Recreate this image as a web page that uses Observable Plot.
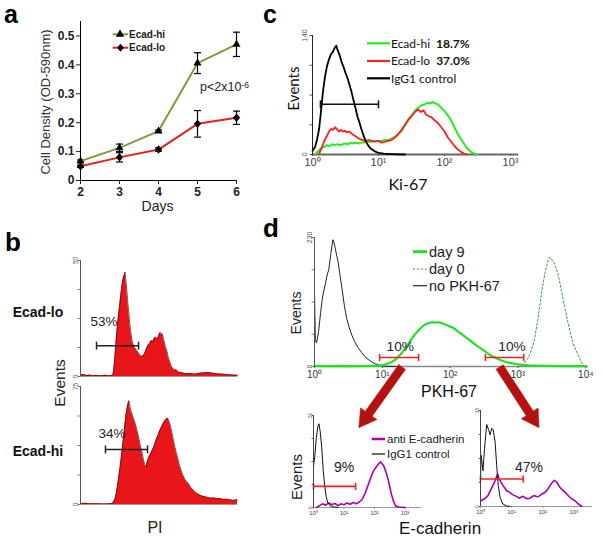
<!DOCTYPE html>
<html><head><meta charset="utf-8">
<script src="https://cdn.jsdelivr.net/npm/d3@7"></script>
<script src="https://cdn.jsdelivr.net/npm/@observablehq/plot@0.6"></script>
<style>
html,body{margin:0;padding:0;background:#fff;}
#fig{position:relative;width:602px;height:539px;overflow:hidden;background:#fff;}
</style></head><body><div id="fig"></div>
<script>
// ---------- Panel a: growth curves ----------
const days = [2, 3, 4, 5, 6];
const hiMean = [0.067, 0.113, 0.171, 0.406, 0.471];
const hiErr  = [0.004, 0.013, 0.004, 0.036, 0.042];
const loMean = [0.049, 0.080, 0.107, 0.196, 0.217];
const loErr  = [0.004, 0.016, 0.006, 0.046, 0.023];
const yTicksA = [0, 0.1, 0.2, 0.3, 0.4, 0.5];

// ---------- Panel b: PI histograms (channel 0-100, events) ----------
const piLo = [[0,0.6],[2,0.9],[4,0.4],[6,0.6],[8,0.3],[10,0.5],[12,0.3],[14,0.4],[16,0.5],[18,0.3],[20,0.4],[20.8,1],[21.5,5],[22.2,11],[23,18],[24,25],[25,31],[26,37],[26.8,41],[27.5,43],[28,44],[28.4,45],[28.8,42],[29.3,39],[30,33],[30.7,28],[31.5,22],[32.3,18],[33,15],[34,13],[35,12],[36,11],[37,10],[38,9],[39,8.5],[40,9],[41,10],[42,12],[43,13.5],[44,14],[45,15.5],[46,15],[47,16.5],[48,17],[49,16],[50,18],[50.8,19],[51.5,17.5],[52,18.5],[53,16],[54,13],[55,11],[56,8],[57,6],[58,4],[59,3.5],[60,2.5],[61,3],[62,2],[63,1.8],[65,1.5],[67,1.2],[70,1.3],[73,1],[76,1.4],[79,1.6],[82,1.7],[85,1.3],[88,1.1],[91,1],[94,0.8],[97,0.6],[100,0.5]];
const piHi = [[0,0.5],[3,0.8],[6,0.4],[9,0.5],[12,0.4],[15,0.3],[18,0.5],[20,0.6],[21,1.5],[22,3.5],[23,8],[24,15],[25,22],[26,30],[27,39],[28,48],[29,57],[30,63],[30.8,66],[31.5,62],[32.2,59],[33,57],[34,54],[35,51],[36,47],[37,43],[38,38],[39,34],[40,29],[41,25],[41.8,24],[42.5,27],[43.5,30],[44.5,32],[45.5,34],[46.5,36],[47.5,39],[48.5,42],[49.5,44],[50.5,47],[51.5,49],[52.5,51],[53.5,53],[54.5,54],[55.3,55],[56,54],[57,51],[58,47],[59,42],[60,37],[61,33],[62,29],[63,25],[64,22],[65,19],[66,17],[67,15],[68,14],[69,13],[70,11],[71,10],[72,9],[73,8],[74,7],[75,6.5],[77,5.5],[79,5],[81,4.5],[83,4],[85,4.2],[87,3.6],[89,3.8],[91,3.2],[93,3.4],[95,3],[97,2.6],[99,2.8],[100,3]];
const piLoGate = {x1: 10.2, x2: 37, y: 13.3};
const piHiGate = {x1: 15.9, x2: 42.7, y: 35};

// ---------- Panel c: Ki-67 histograms (log10 fluorescence, events) ----------
const kiIgG = [[0,4],[0.04,9],[0.07,18],[0.1,30],[0.13,52],[0.16,75],[0.19,92],[0.22,104],[0.25,112],[0.28,118],[0.31,121],[0.34,126],[0.36,128],[0.38,123],[0.41,117],[0.44,109],[0.47,103],[0.5,96],[0.53,90],[0.56,82],[0.59,74],[0.62,64],[0.65,55],[0.68,45],[0.71,38],[0.74,30],[0.77,23],[0.8,17],[0.84,11],[0.88,7],[0.92,5],[0.96,3],[1.0,2],[1.08,1],[1.2,0.5],[1.4,0]];
const kiHi = [[0.05,1],[0.1,5],[0.14,8],[0.18,9],[0.22,11],[0.26,10],[0.3,12],[0.34,11],[0.38,12],[0.42,11],[0.46,12],[0.5,13],[0.54,12],[0.58,14],[0.62,13],[0.66,14],[0.7,13],[0.74,14],[0.78,14],[0.82,15],[0.86,15],[0.9,15],[0.95,16],[1.0,16],[1.05,16],[1.1,17],[1.15,17],[1.2,19],[1.25,21],[1.3,24],[1.35,28],[1.4,34],[1.45,40],[1.5,46],[1.55,51],[1.6,55],[1.65,58],[1.7,59],[1.75,61],[1.78,60],[1.82,62],[1.86,60],[1.9,59],[1.95,55],[2.0,51],[2.05,46],[2.1,40],[2.15,32],[2.2,24],[2.25,18],[2.3,12],[2.35,7],[2.4,3],[2.45,1],[2.5,0]];
const kiLo = [[0.1,1],[0.13,6],[0.16,12],[0.19,18],[0.22,22],[0.25,27],[0.28,30],[0.31,29],[0.34,32],[0.37,30],[0.4,27],[0.43,29],[0.46,27],[0.49,28],[0.52,26],[0.56,27],[0.6,24],[0.64,22],[0.68,20],[0.72,18],[0.76,17],[0.8,16],[0.85,17],[0.9,16],[0.95,15],[1.0,16],[1.05,14],[1.1,15],[1.15,16],[1.2,17],[1.25,20],[1.3,24],[1.35,29],[1.4,35],[1.45,41],[1.5,45],[1.55,50],[1.6,53],[1.64,50],[1.68,52],[1.72,47],[1.76,45],[1.8,44],[1.85,40],[1.9,37],[1.95,32],[2.0,27],[2.05,20],[2.1,15],[2.15,10],[2.2,6],[2.25,3],[2.3,1],[2.35,0]];
const kiGate = {x1: 0.12, x2: 1.0, y: 59};

// ---------- Panel d: PKH-67 dilution ----------
const pkhNone = [[0,134],[0.012,48],[0.03,42],[0.06,62],[0.09,96],[0.12,125],[0.16,147],[0.19,165],[0.21,172],[0.24,200],[0.27,226],[0.29,220],[0.31,208],[0.35,185],[0.38,160],[0.41,135],[0.44,109],[0.47,88],[0.51,70],[0.55,56],[0.59,45],[0.64,34],[0.69,25.5],[0.74,18],[0.79,12.8],[0.84,8.5],[0.89,5],[0.94,3],[0.99,1.3],[1.05,0.5],[1.2,0]];
const pkhDay9 = [[0,1],[0.2,0.5],[0.4,1],[0.6,0.6],[0.8,1],[0.9,1.2],[0.98,2],[1.05,4],[1.13,7.7],[1.18,11],[1.23,16.6],[1.28,23],[1.33,31.5],[1.38,40],[1.43,49],[1.48,57],[1.53,64],[1.58,70],[1.63,75],[1.68,77],[1.73,79],[1.78,78],[1.83,79],[1.88,77],[1.93,75],[1.98,72],[2.03,70],[2.08,66],[2.13,61],[2.18,57],[2.23,52],[2.28,48],[2.33,43],[2.38,38],[2.43,34],[2.48,30],[2.53,25.5],[2.58,21],[2.63,18],[2.68,15],[2.73,12],[2.8,9],[2.88,6.5],[2.97,4.5],[3.07,3],[3.17,2],[3.27,1.5],[3.45,1],[3.7,0.8],[4.0,0.6]];
const pkhDay0 = [[3.0,0],[3.04,1],[3.09,5],[3.16,17],[3.2,30],[3.24,46],[3.29,82],[3.33,115],[3.36,141],[3.4,168],[3.44,188],[3.47,195],[3.5,190],[3.53,186],[3.56,176],[3.59,165],[3.62,148],[3.66,123],[3.7,100],[3.73,82],[3.77,62],[3.8,46],[3.84,33],[3.88,22.6],[3.92,12],[3.95,5],[3.98,1.5],[4.02,0]];
const pkhGates = [{x1: 0.96, x2: 1.535, y: 16}, {x1: 2.52, x2: 3.085, y: 16}];
const pkhArrows = [{x1: 1.29, y1: -1, x2: 0.654, y2: -109}, {x1: 2.73, y1: -1, x2: 3.31, y2: -109}];

// E-cadherin of sorted populations
const ecLowIgG  = [[0,9],[0.04,11],[0.09,15],[0.14,17.5],[0.18,18.2],[0.22,16.5],[0.27,13],[0.32,8],[0.37,4.5],[0.42,2.2],[0.47,1],[0.55,0.4],[0.65,0.1],[0.8,0]];
const ecLowAnti = [[0.1,0],[0.2,0.4],[0.3,0.8],[0.4,0.5],[0.5,1.0],[0.6,0.6],[0.7,0.9],[0.8,0.4],[0.9,0.8],[1.0,0.6],[1.1,1.0],[1.2,0.7],[1.3,1.1],[1.4,0.8],[1.5,1.2],[1.6,1.8],[1.7,3.2],[1.77,4.5],[1.85,6],[1.93,7.4],[2.0,8.3],[2.1,9.2],[2.15,9.6],[2.2,9.9],[2.25,9.5],[2.29,9.2],[2.34,8.4],[2.39,7.4],[2.45,6],[2.5,4.5],[2.55,3],[2.61,1.6],[2.66,0.8],[2.7,0.3],[2.8,0.1],[3.0,0]];
const ecLowGate = {x1: 0, x2: 1.38, y: 4.6};
const ecHighIgG  = [[0,4],[0.02,8],[0.08,5.6],[0.13,9.1],[0.2,12.8],[0.26,12],[0.31,11.2],[0.36,12.2],[0.41,12],[0.47,10.1],[0.52,6.4],[0.57,3.3],[0.63,1.4],[0.72,0.4],[0.83,0.1],[0.95,0]];
const ecHighAnti = [[0.02,0.9],[0.13,1.2],[0.24,1.7],[0.34,2.7],[0.45,3.8],[0.55,5.1],[0.6,4.3],[0.66,3.8],[0.72,3.3],[0.78,2.9],[0.83,2.5],[0.94,2.2],[1.02,1.9],[1.1,1.7],[1.18,1.5],[1.26,1.3],[1.34,1.6],[1.42,1.4],[1.5,1.2],[1.59,1.3],[1.67,1.6],[1.75,1.7],[1.83,1.5],[1.91,1.7],[1.99,2.0],[2.07,2.2],[2.15,2.6],[2.24,3.3],[2.3,3.7],[2.37,4.1],[2.45,3.8],[2.5,3.4],[2.55,3.0],[2.63,2.6],[2.72,2.2],[2.8,1.8],[2.88,1.4],[2.96,1.1],[3.04,0.9],[3.12,0.5],[3.2,0.2],[3.26,0]];
const ecHighGate = {x1: 0, x2: 1.37, y: 4.3};

// ---------- helpers ----------
const SANS = "Liberation Sans, Arial, sans-serif";
const LATO = "Lato, Liberation Sans, sans-serif";
const fig = document.getElementById("fig");
const X = d => d[0], Y = d => d[1];
const sup = ["\u2070", "\u00b9", "\u00b2", "\u00b3", "\u2074"];
const decFmt = d => "10" + sup[d];
const hCap = len => ({draw(ctx){ ctx.moveTo(-len,0); ctx.lineTo(len,0); }});
const vCap = len => ({draw(ctx){ ctx.moveTo(0,-len); ctx.lineTo(0,len); }});
const lTick = len => ({draw(ctx){ ctx.moveTo(-len,0); ctx.lineTo(0,0); }});
const diamondSym = {draw(ctx){ ctx.moveTo(0,-4.2); ctx.lineTo(3.6,0); ctx.lineTo(0,4.2); ctx.lineTo(-3.6,0); ctx.closePath(); }};

function mount(el, fx, fy, mL, mT) {
  el.style.position = "absolute";
  el.style.left = (fx - mL) + "px";
  el.style.top = (fy - mT) + "px";
  fig.appendChild(el);
}

function gateMarks(g, color, capLen, sw) {
  return [
    Plot.link([g], {x1: d => d.x1, x2: d => d.x2, y1: d => d.y, y2: d => d.y, stroke: color, strokeWidth: sw}),
    Plot.dot([[g.x1, g.y], [g.x2, g.y]], {x: X, y: Y, symbol: vCap(capLen), fill: "none", stroke: color, strokeWidth: sw})
  ];
}

function histPlot(o) {
  const {fx, fy, fw, fh, xd, yd} = o;
  const mL = o.mL ?? 26, mR = o.mR ?? 8, mT = o.mT ?? 8, mB = o.mB ?? 20;
  const axc = o.yAxisColor || "#333";
  const el = Plot.plot({
    width: mL + fw + mR, height: mT + fh + mB,
    marginLeft: mL, marginRight: mR, marginTop: mT, marginBottom: mB,
    x: Object.assign({domain: xd, label: null}, o.x),
    y: {domain: yd, axis: null},
    style: Object.assign({background: "transparent", overflow: "visible", fontFamily: SANS}, o.style),
    marks: [
      ...o.marks,
      Plot.ruleX([0], {stroke: axc, strokeWidth: o.yAxisWidth || 1}),
      Plot.dot(o.yTicks, {x: 0, y: d => d, symbol: lTick(o.yTickLen || 3), fill: "none", stroke: axc, strokeWidth: 0.8}),
      Plot.text(o.yLabels, {x: 0, y: d => d, text: d => String(d), rotate: -90, dx: o.yLabelDx ?? -6,
        fontSize: o.yLabelSize || 7, fill: o.yLabelColor || "#555", fontFamily: SANS})
    ]
  });
  mount(el, fx, fy, mL, mT);
  return el;
}

function arrowPoly(a, xs, ys, sw = 4.2, hw = 10, hl = 17) {
  const x1 = xs(a.x1), y1 = ys(a.y1), x2 = xs(a.x2), y2 = ys(a.y2);
  const L = Math.hypot(x2 - x1, y2 - y1), ux = (x2 - x1) / L, uy = (y2 - y1) / L, nx = -uy, ny = ux;
  const bx = x2 - ux * hl, by = y2 - uy * hl;
  const pts = [[x1 + nx*sw, y1 + ny*sw], [bx + nx*sw, by + ny*sw], [bx + nx*hw, by + ny*hw], [x2, y2],
               [bx - nx*hw, by - ny*hw], [bx - nx*sw, by - ny*sw], [x1 - nx*sw, y1 - ny*sw], [x1 + nx*sw, y1 + ny*sw]];
  return pts.map(([px, py]) => [xs.invert(px), ys.invert(py)]);
}

// ---------- Panel a ----------
{
  const hiRows = days.map((d, i) => ({day: d, v: hiMean[i], e: hiErr[i]}));
  const loRows = days.map((d, i) => ({day: d, v: loMean[i], e: loErr[i]}));
  const mL = 50, mR = 10, mT = 21, mB = 40, fw = 156, fh = 159;
  const errMarks = rows => [
    Plot.ruleX(rows, {x: "day", y1: d => d.v - d.e, y2: d => d.v + d.e, stroke: "#000", strokeWidth: 1.2}),
    Plot.dot(rows, {x: "day", y: d => d.v - d.e, symbol: hCap(3.5), fill: "none", stroke: "#000", strokeWidth: 1.2}),
    Plot.dot(rows, {x: "day", y: d => d.v + d.e, symbol: hCap(3.5), fill: "none", stroke: "#000", strokeWidth: 1.2})
  ];
  const el = Plot.plot({
    width: mL + fw + mR, height: mT + fh + mB,
    marginLeft: mL, marginRight: mR, marginTop: mT, marginBottom: mB,
    x: {domain: [2, 6], ticks: days, tickFormat: d => String(d), tickSize: 4, tickPadding: 3, label: null},
    y: {domain: [0, 0.55], ticks: yTicksA, tickFormat: d => d === 0 ? "0" : d.toFixed(1), tickSize: 4, tickPadding: 2, label: null},
    style: {background: "transparent", overflow: "visible", fontFamily: SANS, fontSize: "12px", fontWeight: "bold", color: "#222"},
    marks: [
      Plot.ruleY([0], {stroke: "#000"}),
      Plot.ruleX([2], {stroke: "#000"}),
      ...errMarks(hiRows), ...errMarks(loRows),
      Plot.line(hiRows, {x: "day", y: "v", stroke: "#80993a", strokeWidth: 2}),
      Plot.line(loRows, {x: "day", y: "v", stroke: "#e3201e", strokeWidth: 2}),
      Plot.dot(hiRows, {x: "day", y: "v", symbol: "triangle", r: 3, fill: "#000"}),
      Plot.dot(loRows, {x: "day", y: "v", symbol: diamondSym, fill: "#000"})
    ]
  });
  mount(el, 80, 21, mL, mT);
}

// ---------- Panel b ----------
histPlot({fx: 80, fy: 260, fw: 157, fh: 116, xd: [0, 100], yd: [0, 50], x: {axis: null},
  yTicks: [0, 12.5, 25, 37.5, 50], yLabels: [0, 50], yLabelDx: -4.5, yLabelSize: 6.5, yAxisColor: "#555",
  marks: [
    Plot.areaY(piLo, {x: X, y: Y, fill: "#e8161b"}),
    Plot.line(piLo, {x: X, y: Y, stroke: "#5a0a0a", strokeWidth: 0.7}),
    Plot.ruleY([0], {stroke: "#999"}),
    ...gateMarks(piLoGate, "#222", 4, 1.5)
  ]});
histPlot({fx: 80, fy: 386, fw: 157, fh: 118, xd: [0, 100], yd: [0, 75], x: {axis: null},
  yTicks: [0, 18.75, 37.5, 56.25, 75], yLabels: [0, 75], yLabelDx: -4.5, yLabelSize: 6.5, yAxisColor: "#555",
  marks: [
    Plot.areaY(piHi, {x: X, y: Y, fill: "#e8161b"}),
    Plot.line(piHi, {x: X, y: Y, stroke: "#5a0a0a", strokeWidth: 0.7}),
    Plot.ruleY([0], {stroke: "#999"}),
    ...gateMarks(piHiGate, "#222", 4, 1.5)
  ]});

// ---------- Panel c ----------
histPlot({fx: 312, fy: 35, fw: 206, fh: 119, xd: [0, 3.12], yd: [0, 140],
  x: {ticks: [0, 1, 2, 3], tickFormat: decFmt, tickSize: 2, tickPadding: 2},
  style: {fontSize: "11px", color: "#444"},
  yTicks: [0, 35, 70, 105, 140], yLabels: [0, 140], yLabelDx: -8, yLabelSize: 7.5, yAxisColor: "#222",
  marks: [
    Plot.ruleY([0], {stroke: "#666", strokeWidth: 2}),
    Plot.line(kiHi, {x: X, y: Y, stroke: "#22ee22", strokeWidth: 2}),
    Plot.line(kiLo, {x: X, y: Y, stroke: "#ff1f1f", strokeWidth: 1.8}),
    Plot.line(kiIgG, {x: X, y: Y, stroke: "#000", strokeWidth: 1.8}),
    ...gateMarks(kiGate, "#111", 4, 1.5)
  ]});

// ---------- Panel d (top) ----------
{
  const fw = 274, fh = 129, xd = [0, 4.04], yd = [0, 230];
  const xs = d3.scaleLinear(xd, [0, fw]), ys = d3.scaleLinear(yd, [fh, 0]);
  const polys = pkhArrows.map(a => arrowPoly(a, xs, ys));
  histPlot({fx: 314, fy: 237, fw, fh, xd, yd, mB: 70,
    x: {ticks: [0, 1, 2, 3, 4], tickFormat: decFmt, tickSize: 2, tickPadding: 2},
    style: {fontSize: "10px", color: "#333"},
    yTicks: [0, 57.5, 115, 172.5, 230], yLabels: [0, 230], yLabelDx: -5, yLabelSize: 7, yAxisColor: "#555",
    marks: [
      Plot.ruleY([0], {stroke: "#888", strokeWidth: 1.5}),
      ...polys.map(p => Plot.line(p, {x: X, y: Y, fill: "#b3120f", stroke: "#b3120f", strokeWidth: 0.6, strokeLinejoin: "miter"})),
      Plot.line(pkhNone, {x: X, y: Y, stroke: "#222", strokeWidth: 1}),
      Plot.line(pkhDay0, {x: X, y: Y, stroke: "#3c9a3c", strokeWidth: 1, strokeDasharray: "2,2"}),
      Plot.line(pkhDay9, {x: X, y: Y, stroke: "#22e022", strokeWidth: 2.2}),
      ...pkhGates.flatMap(g => gateMarks(g, "#ee2222", 3.5, 1.6))
    ]});
}

// ---------- Panel d (bottom) ----------
histPlot({fx: 312.5, fy: 415, fw: 108, fh: 92, xd: [0, 3.54], yd: [0, 20],
  x: {ticks: [0, 1, 2, 3], tickFormat: decFmt, tickSize: 1.5, tickPadding: 1.5},
  style: {fontSize: "6px", color: "#444"},
  yTicks: [0, 5, 10, 15, 20], yLabels: [0, 20], yLabelDx: -3.6, yLabelSize: 5, yAxisColor: "#444", yTickLen: 2,
  marks: [
    Plot.ruleY([0], {stroke: "#999"}),
    Plot.line(ecLowAnti, {x: X, y: Y, stroke: "#a800b0", strokeWidth: 1.6}),
    Plot.line(ecLowIgG, {x: X, y: Y, stroke: "#111", strokeWidth: 1}),
    ...gateMarks(ecLowGate, "#ee2222", 3.5, 1.6)
  ]});
histPlot({fx: 480, fy: 410, fw: 112, fh: 96, xd: [0, 3.6], yd: [0, 15],
  x: {ticks: [0, 1, 2, 3], tickFormat: decFmt, tickSize: 1.5, tickPadding: 1.5},
  style: {fontSize: "6px", color: "#444"},
  yTicks: [0, 3.75, 7.5, 11.25, 15], yLabels: [0, 15], yLabelDx: -3.6, yLabelSize: 5, yAxisColor: "#444", yTickLen: 2,
  marks: [
    Plot.ruleY([0], {stroke: "#999"}),
    Plot.line(ecHighAnti, {x: X, y: Y, stroke: "#a800b0", strokeWidth: 1.6}),
    Plot.line(ecHighIgG, {x: X, y: Y, stroke: "#111", strokeWidth: 1}),
    ...gateMarks(ecHighGate, "#ee2222", 3.5, 1.6)
  ]});

// ---------- annotations: titles, labels, legends ----------
const ov = d3.select(fig).append("svg").attr("width", 602).attr("height", 539)
  .style("position", "absolute").style("left", "0px").style("top", "0px").style("overflow", "visible");
function T(str, x, y, o = {}) {
  const t = ov.append("text").attr("x", x).attr("y", y).attr("dy", o.dy ?? "0.35em")
    .attr("font-family", o.ff || SANS).attr("font-size", o.fs || 12)
    .attr("font-weight", o.fw || "normal").attr("fill", o.c || "#111").attr("text-anchor", o.a || "middle");
  if (o.rot) t.attr("transform", `rotate(${o.rot},${x},${y})`);
  if (str != null) t.text(str);
  return t;
}
function L(x1, y1, x2, y2, stroke, w, dash) {
  const l = ov.append("line").attr("x1", x1).attr("y1", y1).attr("x2", x2).attr("y2", y2)
    .attr("stroke", stroke).attr("stroke-width", w);
  if (dash) l.attr("stroke-dasharray", dash);
  return l;
}

// panel letters
T("a", 4, 22.8, {fs: 25, fw: "bold", a: "start", dy: 0, c: "#000"});
T("b", 5, 251, {fs: 26, fw: "bold", a: "start", dy: 0, c: "#000"});
T("c", 263, 22.8, {fs: 25, fw: "bold", a: "start", dy: 0, c: "#000"});
T("d", 263, 237, {fs: 26, fw: "bold", a: "start", dy: 0, c: "#000"});

// a
T("Cell Density (OD-590nm)", 45, 102, {fs: 13, c: "#333", rot: -90});
T("Days", 157.5, 206.5, {fs: 14, c: "#222"});
L(112.7, 34.3, 128.3, 34.3, "#80993a", 2);
ov.append("path").attr("d", d3.symbol(d3.symbolTriangle, 30)()).attr("transform", "translate(120,34.3)").attr("fill", "#000");
L(112.7, 47.7, 128.3, 47.7, "#e3201e", 2);
ov.append("path").attr("d", "M0,-4L3.4,0L0,4L-3.4,0Z").attr("transform", "translate(120.5,47.7)").attr("fill", "#000");
T("Ecad-hi", 129, 34.3, {fs: 10, fw: "bold", a: "start", c: "#222"});
T("Ecad-lo", 129, 47.7, {fs: 10, fw: "bold", a: "start", c: "#222"});
{
  const t = T(null, 200, 87, {fs: 12.5, a: "start", c: "#222"});
  t.append("tspan").text("p<2x10");
  t.append("tspan").attr("dy", "-0.45em").attr("font-size", 8.5).text("-6");
}

// b
T("Ecad-lo", 12.7, 312, {fs: 14, fw: "bold", a: "start", c: "#111"});
T("Ecad-hi", 12.7, 451, {fs: 14, fw: "bold", a: "start", c: "#111"});
T("Events", 60, 383, {fs: 15.5, c: "#222", rot: -90});
T("PI", 155, 527, {fs: 16, c: "#222"});
T("53%", 104, 321, {fs: 13.5, c: "#222"});
T("34%", 112, 433, {fs: 13.5, c: "#222"});

// c
T("Events", 293.5, 88.5, {fs: 15, ff: LATO, c: "#111", rot: -90});
T("Ki-67", 408, 184, {fs: 16, ff: LATO, c: "#111"});
const cLeg = [["Ecad-hi", "18.7%", "#22ee22", 43.3], ["Ecad-lo", "37.0%", "#ff1f1f", 61], ["IgG1 control", null, "#000", 78.3]];
cLeg.forEach(([lab, pct, col, y]) => {
  L(367, y, 390, y, col, 2.2);
  const t = T(null, 391, y, {fs: 12, ff: LATO, a: "start", c: "#111"});
  t.append("tspan").text(lab);
  if (pct) t.append("tspan").attr("dx", 6).attr("font-weight", "bold").text(pct);
});

// d top
T("Events", 296.5, 313, {fs: 14, c: "#222", rot: -90});
T("PKH-67", 449, 391.7, {fs: 16, c: "#111"});
T("10%", 400.3, 346, {fs: 13.7, c: "#222"});
T("10%", 512, 346, {fs: 13.7, c: "#222"});
L(413, 251.7, 427, 251.7, "#22e022", 3);
L(413, 269, 427, 269, "#3c9a3c", 1, "2,2");
L(413, 285.7, 427, 285.7, "#222", 1.2);
T("day 9", 429, 251.7, {fs: 14.5, a: "start", c: "#222"});
T("day 0", 429, 269, {fs: 14.5, a: "start", c: "#222"});
T("no PKH-67", 429, 285.7, {fs: 14.5, a: "start", c: "#222"});

// d bottom
L(371.7, 439, 385, 439, "#a800b0", 2.5);
L(371.7, 454, 385, 454, "#111", 1.2);
T("anti E-cadherin", 387, 439, {fs: 11.5, a: "start", c: "#222"});
T("IgG1 control", 387, 454, {fs: 11.5, a: "start", c: "#222"});
T("9%", 344, 467, {fs: 14, c: "#222"});
T("47%", 529, 467, {fs: 14, c: "#222"});
T("Events", 297, 477, {fs: 15, c: "#222", rot: -90});
T("E-cadherin", 440, 528, {fs: 17, c: "#111"});
</script></body></html>
